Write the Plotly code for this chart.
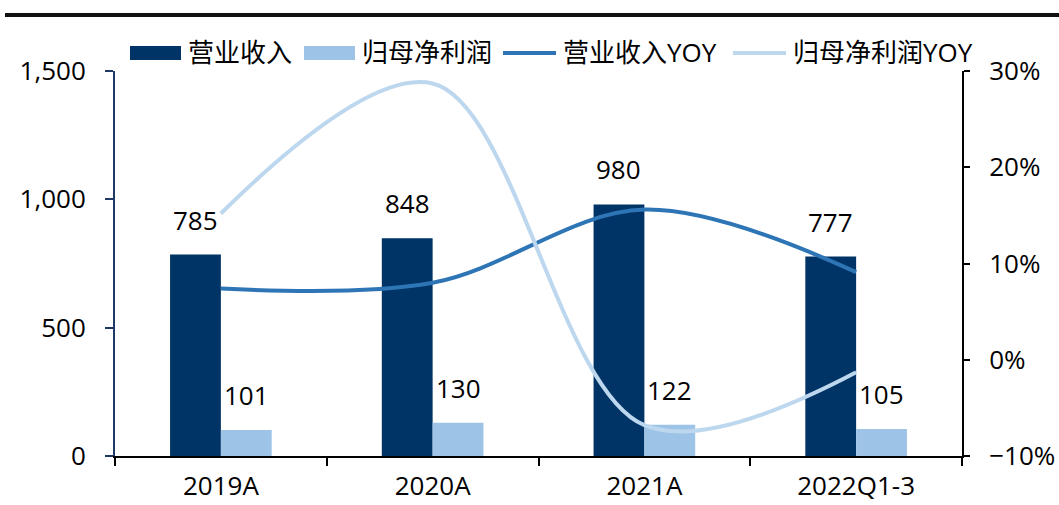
import plotly.graph_objects as go

# Data (亿元 / %)
categories = ["2019A", "2020A", "2021A", "2022Q1-3"]
revenue = [785, 848, 980, 777]
net_profit = [101, 130, 122, 105]
revenue_yoy = [7.4, 8.0, 15.6, 9.1]
profit_yoy = [15.2, 28.7, -6.8, -1.3]

DARK = "#003366"
LIGHT = "#9DC3E6"
MID_LINE = "#2E75B6"
LIGHT_LINE = "#BDD7EE"
FONT = "Open Sans, Noto Sans CJK SC, sans-serif"

W, H = 1059, 505
L, R, T, B = 115, 962, 71, 456  # plot area in pixels


def px(x):
    return (x - L) / (R - L)


def py(y):
    return (B - y) / (B - T)


fig = go.Figure()

fig.add_trace(go.Bar(x=categories, y=revenue, name="营业收入",
                     marker=dict(color=DARK, line=dict(width=0)), showlegend=False))
fig.add_trace(go.Bar(x=categories, y=net_profit, name="归母净利润",
                     marker=dict(color=LIGHT, line=dict(width=0)), showlegend=False))
fig.add_trace(go.Scatter(x=categories, y=revenue_yoy, name="营业收入YOY", yaxis="y2",
                         mode="lines", line=dict(color=MID_LINE, width=4, shape="spline", smoothing=1.0),
                         showlegend=False))
fig.add_trace(go.Scatter(x=categories, y=profit_yoy, name="归母净利润YOY", yaxis="y2",
                         mode="lines", line=dict(color=LIGHT_LINE, width=4, shape="spline", smoothing=1.0),
                         showlegend=False))

annotations = []
# value labels above the bars
for c, v in zip(categories, revenue):
    annotations.append(dict(x=c, y=v, xref="x", yref="y", text=str(v), showarrow=False,
                            xshift=-25.5, yshift=35, yanchor="middle",
                            font=dict(family=FONT, size=26, color="#000")))
for c, v in zip(categories, net_profit):
    annotations.append(dict(x=c, y=v, xref="x", yref="y", text=str(v), showarrow=False,
                            xshift=25.5, yshift=35, yanchor="middle",
                            font=dict(family=FONT, size=26, color="#000")))

shapes = []
# legend row
legend_items = [
    ("rect", DARK, 130, 181, "营业收入", 186),
    ("rect", LIGHT, 304, 355, "归母净利润", 360),
    ("line", MID_LINE, 503, 556, "营业收入YOY", 561),
    ("line", LIGHT_LINE, 733, 786, "归母净利润YOY", 791),
]
for kind, color, x0, x1, label, tx in legend_items:
    if kind == "rect":
        shapes.append(dict(type="rect", xref="paper", yref="paper",
                           x0=px(x0), x1=px(x1), y0=py(60), y1=py(46),
                           fillcolor=color, line=dict(width=0)))
    else:
        shapes.append(dict(type="line", xref="paper", yref="paper",
                           x0=px(x0), x1=px(x1), y0=py(53), y1=py(53),
                           line=dict(color=color, width=4)))
    annotations.append(dict(x=px(tx), y=py(52), xref="paper", yref="paper", text=label,
                            showarrow=False, xanchor="left", yanchor="middle",
                            font=dict(family=FONT, size=26, color="#000")))

# heading rule at the top
shapes.append(dict(type="line", xref="paper", yref="paper",
                   x0=px(5), x1=px(1059), y0=py(15), y1=py(15),
                   line=dict(color="#111", width=4)))

fig.update_layout(
    width=W, height=H,
    margin=dict(l=L, r=W - R, t=T, b=H - B, pad=0),
    paper_bgcolor="white", plot_bgcolor="white",
    barmode="group", bargap=0.52, bargroupgap=0,
    font=dict(family=FONT, size=26, color="#000"),
    xaxis=dict(type="category", showline=True, linecolor="#000", linewidth=2,
               ticks="outside", tickson="boundaries", ticklen=8, tickcolor="#000", tickwidth=2,
               showgrid=False, tickfont=dict(size=26), ticklabelstandoff=6, automargin=False),
    yaxis=dict(range=[0, 1500], dtick=500, tickformat=",", showline=True,
               linecolor="#1F3864", linewidth=2, ticks="outside", ticklen=8,
               tickcolor="#1F3864", tickwidth=2, showgrid=False, zeroline=False,
               tickfont=dict(size=26), ticklabelstandoff=14, automargin=False),
    yaxis2=dict(range=[-10, 30], dtick=10, ticksuffix="%", overlaying="y", side="right",
                showline=True, linecolor="#000", linewidth=2, ticks="outside", ticklen=6,
                tickcolor="#000", tickwidth=2, showgrid=False, zeroline=False,
                tickfont=dict(size=26), ticklabelstandoff=14, automargin=False),
    annotations=annotations,
    shapes=shapes,
    showlegend=False,
)

fig.write_html("out.html")
